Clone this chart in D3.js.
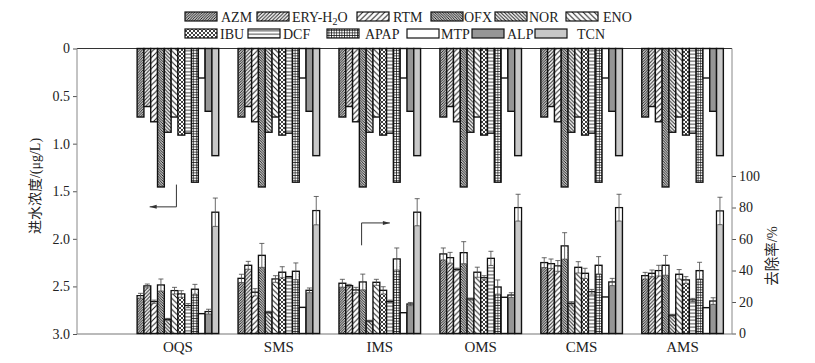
<!DOCTYPE html>
<html>
<head>
<meta charset="utf-8">
<script src="https://cdn.jsdelivr.net/npm/d3@7"></script>
<style>
  body { margin: 0; background: #fff; }
  text { font-family: "Liberation Serif", "Noto Sans CJK SC", serif; fill: #222; }
</style>
</head>
<body>
<div id="chart"></div>
<script>
const dims = {width: 815, height: 363, left: 77, right: 732, top: 48.5, bottom: 334};

const groups = ["OQS", "SMS", "IMS", "OMS", "CMS", "AMS"];
const series = ["AZM", "ERY-H2O", "RTM", "OFX", "NOR", "ENO", "IBU", "DCF", "APAP", "MTP", "ALP", "TCN"];

// influent concentration, same for every process (ug/L)
const influent = [0.72, 0.61, 0.77, 1.455, 0.88, 0.72, 0.91, 0.89, 1.405, 0.31, 0.66, 1.126];

// removal rate (%) and error per process
const removalOQS = [24.0, 30.2, 20.2, 30.8, 9.0, 27.2, 25.1, 17.7, 28.1, 12.6, 13.9, 77.0];
const sdOQS      = [1.5, 1.2, 1.0, 3.8, 0.6, 2.1, 2.1, 1.3, 3.1, 0, 1.5, 9.0];
const removalSMS = [35.0, 43.3, 26.2, 49.6, 13.5, 34.6, 38.9, 36.1, 39.5, 16.6, 27.4, 78.0];
const sdSMS      = [2.6, 2.5, 2.3, 7.6, 0.6, 2.1, 3.5, 0, 5.3, 0, 1.5, 9.0];
const removalIMS = [31.9, 30.4, 27.6, 32.7, 7.9, 32.5, 27.4, 20.4, 47.3, 13.2, 18.7, 77.0];
const sdIMS      = [2.5, 0.8, 1.7, 5.0, 0.5, 1.9, 2.3, 0.8, 7.0, 0, 1.0, 8.6];
const removalOMS = [50.5, 48.1, 40.7, 51.3, 21.9, 38.9, 35.4, 47.7, 29.5, 23.0, 24.4, 79.9];
const sdOMS      = [3.8, 3.4, 0.8, 7.0, 0.6, 3.2, 1.3, 4.5, 4.5, 0, 1.5, 8.5];
const removalCMS = [45.0, 44.3, 42.9, 55.6, 19.2, 42.0, 38.2, 26.5, 43.3, 23.2, 32.7, 79.9];
const sdCMS      = [3.1, 3.0, 3.4, 8.4, 1.0, 3.6, 3.2, 1.5, 5.5, 0, 2.3, 8.5];
const removalAMS = [36.7, 38.2, 39.9, 43.3, 11.6, 37.6, 34.0, 21.3, 39.9, 16.4, 20.6, 77.8];
const sdAMS      = [2.1, 2.1, 3.4, 6.3, 0.6, 3.0, 2.1, 1.0, 5.3, 0, 2.1, 8.7];

const concTicks = [0, 0.5, 1.0, 1.5, 2.0, 2.5, 3.0];
const rateTicks = [0, 20, 40, 60, 80, 100];

const removal = [removalOQS, removalSMS, removalIMS, removalOMS, removalCMS, removalAMS];
const sds = [sdOQS, sdSMS, sdIMS, sdOMS, sdCMS, sdAMS];

const rows = [];
groups.forEach((g, gi) => series.forEach((s, si) => rows.push({
    group: g, gi: gi + 1, series: s, si,
    conc: influent[si], rate: removal[gi][si], sd: sds[gi][si]
})));

const svg = d3.select("#chart").append("svg")
    .attr("width", dims.width).attr("height", dims.height);

// fill patterns
const defs = svg.append("defs");
function linePattern(id, size, paths, width) {
    const p = defs.append("pattern").attr("id", id)
        .attr("patternUnits", "userSpaceOnUse")
        .attr("width", size).attr("height", size);
    p.append("rect").attr("width", size).attr("height", size).attr("fill", "#fff");
    p.append("path").attr("d", paths(size))
        .attr("stroke", "#111").attr("stroke-width", width).attr("fill", "none");
}
const fwd = s => `M0,${s} L${s},0 M${-s/2},${s/2} L${s/2},${-s/2} M${s/2},${s*1.5} L${s*1.5},${s/2}`;
const bwd = s => `M0,0 L${s},${s} M${-s/2},${s/2} L${s/2},${s*1.5} M${s/2},${-s/2} L${s*1.5},${s/2}`;
linePattern("p-azm", 2.6, fwd, 0.95);
linePattern("p-ery", 3.6, fwd, 0.95);
linePattern("p-rtm", 5.5, fwd, 0.95);
linePattern("p-ofx", 2.6, bwd, 0.95);
linePattern("p-nor", 3.6, bwd, 0.95);
linePattern("p-eno", 5.5, bwd, 0.95);
linePattern("p-ibu", 4, s => fwd(s) + bwd(s), 0.8);
linePattern("p-dcf", 3.5, s => `M0,${s/2} L${s},${s/2}`, 0.8);
linePattern("p-apap", 2.6, s => `M0,${s/2} L${s},${s/2} M${s/2},0 L${s/2},${s}`, 0.7);

const fills = ["url(#p-azm)", "url(#p-ery)", "url(#p-rtm)", "url(#p-ofx)", "url(#p-nor)", "url(#p-eno)",
    "url(#p-ibu)", "url(#p-dcf)", "url(#p-apap)", "#fff", "#969696", "#c8c8c8"];
const fill = d3.scaleOrdinal().domain(series).range(fills);

// scales
const x = d3.scaleLinear().domain([0, 6.49]).range([dims.left, dims.right]);
const inner = d3.scaleBand().domain(series).range([-40.8, 40.8]);
const yConc = d3.scaleLinear().domain([0, 3]).range([dims.top, dims.bottom]);
const yRate = d3.scaleLinear().domain([0, 100]).range([333.5, 176]);

// frame
svg.append("line").attr("x1", dims.left).attr("x2", dims.right)
    .attr("y1", dims.top).attr("y2", dims.top).attr("stroke", "#333").attr("stroke-width", 1);
svg.append("line").attr("x1", dims.left).attr("x2", dims.right)
    .attr("y1", dims.bottom).attr("y2", dims.bottom).attr("stroke", "#777").attr("stroke-width", 1.2);

// influent bars hanging from the top
const barX = d => x(d.gi) + inner(d.series);
svg.append("g").selectAll("rect").data(rows).join("rect")
    .attr("x", barX).attr("width", inner.bandwidth())
    .attr("y", yConc(0)).attr("height", d => yConc(d.conc) - yConc(0))
    .attr("fill", d => fill(d.series))
    .attr("stroke", "#111").attr("stroke-width", 1.4);

// removal bars from the bottom
const rb = svg.append("g").selectAll("g").data(rows).join("g");
rb.append("rect")
    .attr("x", barX).attr("width", inner.bandwidth())
    .attr("y", d => yRate(d.rate)).attr("height", d => yRate(0) - yRate(d.rate))
    .attr("fill", d => fill(d.series))
    .attr("stroke", "#111").attr("stroke-width", 1.4);
const eb = rb.filter(d => d.sd > 0);
eb.append("rect")
    .attr("x", d => barX(d) + 0.7).attr("width", inner.bandwidth() - 1.4)
    .attr("y", d => yRate(d.rate) + 0.7)
    .attr("height", d => Math.max(0, yRate(d.rate - d.sd) - yRate(d.rate) - 0.7))
    .attr("fill", "#fff");
const cx = d => barX(d) + inner.bandwidth() / 2;
eb.append("line")
    .attr("x1", cx).attr("x2", cx)
    .attr("y1", d => yRate(d.rate + d.sd)).attr("y2", d => yRate(d.rate - d.sd))
    .attr("stroke", "#444").attr("stroke-width", 0.8);
eb.append("path")
    .attr("d", d => `M${cx(d) - 2.5},${yRate(d.rate + d.sd)} h5 M${cx(d) - 2.5},${yRate(d.rate - d.sd)} h5`)
    .attr("stroke", "#444").attr("stroke-width", 0.8);

// axes
const leftAxis = svg.append("g").attr("transform", `translate(${dims.left},0)`)
    .call(d3.axisLeft(yConc).tickValues(concTicks)
        .tickFormat(d => d === 0 ? "0" : d3.format(".1f")(d)).tickSize(4).tickPadding(3));
const rightAxis = svg.append("g").attr("transform", `translate(${dims.right},0)`)
    .call(d3.axisRight(yRate).tickValues(rateTicks).tickSize(4).tickPadding(3));
[leftAxis, rightAxis].forEach(a => {
    a.select(".domain").remove();
    a.selectAll(".tick line").attr("stroke", "#555");
    a.selectAll("text").style("font-size", "14px").attr("fill", "#222");
});
svg.append("line").attr("x1", dims.left).attr("x2", dims.left)
    .attr("y1", dims.top).attr("y2", dims.bottom).attr("stroke", "#888").attr("stroke-width", 1);
svg.append("line").attr("x1", dims.right).attr("x2", dims.right)
    .attr("y1", dims.top).attr("y2", dims.bottom).attr("stroke", "#888").attr("stroke-width", 1);

// group labels
svg.append("g").selectAll("text").data(groups).join("text")
    .attr("x", (d, i) => x(i + 1)).attr("y", 352)
    .attr("text-anchor", "middle").style("font-size", "15px")
    .text(d => d);

// axis titles
svg.append("text").attr("transform", "translate(40,186) rotate(-90)")
    .attr("text-anchor", "middle").style("font-size", "14px")
    .text("进水浓度/(μg/L)");
svg.append("text").attr("transform", "translate(777,256) rotate(-90)")
    .attr("text-anchor", "middle").style("font-size", "14.5px")
    .text("去除率/%");

// arrows pointing at the axis each half belongs to
function arrow(pts) {
    svg.append("path").attr("d", d3.line()(pts)).attr("fill", "none")
        .attr("stroke", "#333").attr("stroke-width", 1);
    const [a, b] = pts.slice(-2);
    const dir = Math.sign(b[0] - a[0]);
    svg.append("path")
        .attr("d", `M${b[0]},${b[1]} l${-7 * dir},-2 l0,4 z`)
        .attr("fill", "#333");
}
arrow([[x(0.985), yConc(1.43)], [x(0.985), yRate(80.4)], [x(0.72), yRate(80.4)]]);
arrow([[x(2.82), yRate(56)], [x(2.82), yRate(70.2)], [x(3.1), yRate(70.2)]]);

// legend
const legendBoxX = [185, 257, 357, 431, 495, 566, 185, 248, 327, 407, 472, 535];
const legendTextX = [221, 292, 393, 464, 529, 603, 220, 283, 365, 441, 507, 577];
const lg = svg.append("g").selectAll("g").data(series).join("g")
    .attr("transform", (d, i) => `translate(0,${i < 6 ? 12 : 29})`);
lg.append("rect")
    .attr("x", (d, i) => legendBoxX[i]).attr("width", 32).attr("height", 9)
    .attr("fill", d => fill(d)).attr("stroke", "#111").attr("stroke-width", 1.2);
lg.append("text")
    .attr("x", (d, i) => legendTextX[i]).attr("y", 9.5)
    .style("font-size", "14px")
    .each(function(d) {
        const t = d3.select(this);
        if (d === "ERY-H2O") {
            t.append("tspan").text("ERY-H");
            t.append("tspan").attr("dy", 3).style("font-size", "10px").text("2");
            t.append("tspan").attr("dy", -3).text("O");
        } else t.text(d);
    });
</script>
</body>
</html>
